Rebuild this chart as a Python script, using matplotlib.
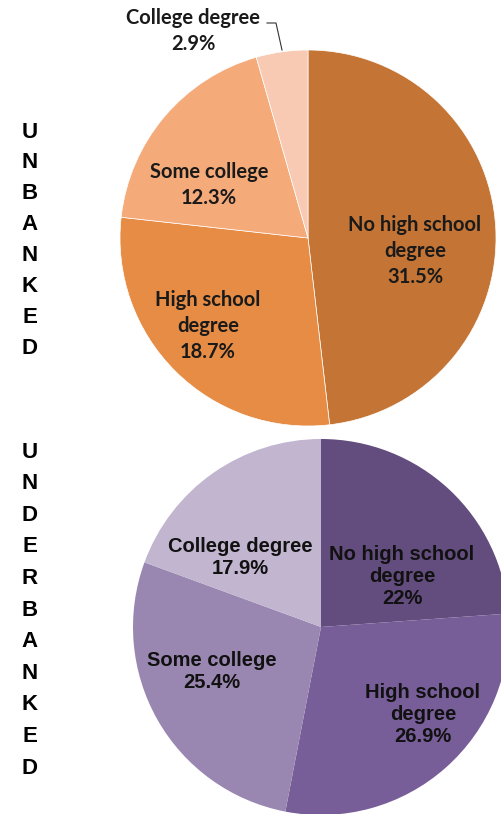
import matplotlib
matplotlib.use("Agg")
import matplotlib.pyplot as plt
from matplotlib.lines import Line2D

W, H = 502, 814

categories = ["No high school\ndegree", "High school\ndegree", "Some college", "College degree"]
unbanked = [31.5, 18.7, 12.3, 2.9]
underbanked = [22, 26.9, 25.4, 17.9]

unbanked_colors = ["#C47535", "#E68C44", "#F5AA79", "#F8CAB4"]
underbanked_colors = ["#634C7E", "#785E98", "#9A87B1", "#C1B5CF"]

# label centres in pixels, one per slice
unbanked_pos = [(415, 251), (208, 326), (209, 185), (193, 31)]
underbanked_pos = [(402, 577), (423, 715), (212, 672), (240, 558)]


def fx(x):
    return x / W


def fy(y):
    return 1 - y / H


def pie_axes(fig, cx, cy, r):
    return fig.add_axes([fx(cx - r), fy(cy + r), 2 * r / W, 2 * r / H])


def finish(ax):
    # pie() pads the limits, so set them back to the unit circle
    ax.set_xlim(-1, 1)
    ax.set_ylim(-1, 1)
    ax.axis("off")


fig = plt.figure(figsize=(W / 100, H / 100), dpi=100)

# unbanked pie
ax1 = pie_axes(fig, 308, 238, 188)
ax1.pie(unbanked, colors=unbanked_colors, startangle=90, counterclock=False,
        radius=1, wedgeprops=dict(edgecolor="white", linewidth=0.5))
finish(ax1)
for cat, v, (x, y) in zip(categories, unbanked, unbanked_pos):
    fig.text(fx(x), fy(y), f"{cat}\n{v:g}%", ha="center", va="center",
             family="Lato", weight="bold", fontsize=14.5, color="#1a1a1a",
             linespacing=1.4)

# leader line for the small slice
fig.add_artist(Line2D([fx(267), fx(276), fx(282)], [fy(23), fy(23), fy(50)],
                      color="#333333", linewidth=0.8))

# underbanked pie
ax2 = pie_axes(fig, 321, 627, 188)
ax2.pie(underbanked, colors=underbanked_colors, startangle=90, counterclock=False,
        radius=1, wedgeprops=dict(linewidth=0))
finish(ax2)
for cat, v, (x, y) in zip(categories, underbanked, underbanked_pos):
    fig.text(fx(x), fy(y), f"{cat}\n{v:g}%", ha="center", va="center",
             family="Liberation Sans", weight="bold", fontsize=14.5, color="#111111",
             linespacing=1.2)

# vertical side titles
for word, y0, step in [("UNBANKED", 132, 30.9), ("UNDERBANKED", 452, 31.6)]:
    for i, ch in enumerate(word):
        fig.text(fx(30), fy(y0 + i * step), ch, ha="center", va="center",
                 family="Liberation Sans", weight="bold", fontsize=16, color="black")

fig.savefig("out.png", dpi=100)
